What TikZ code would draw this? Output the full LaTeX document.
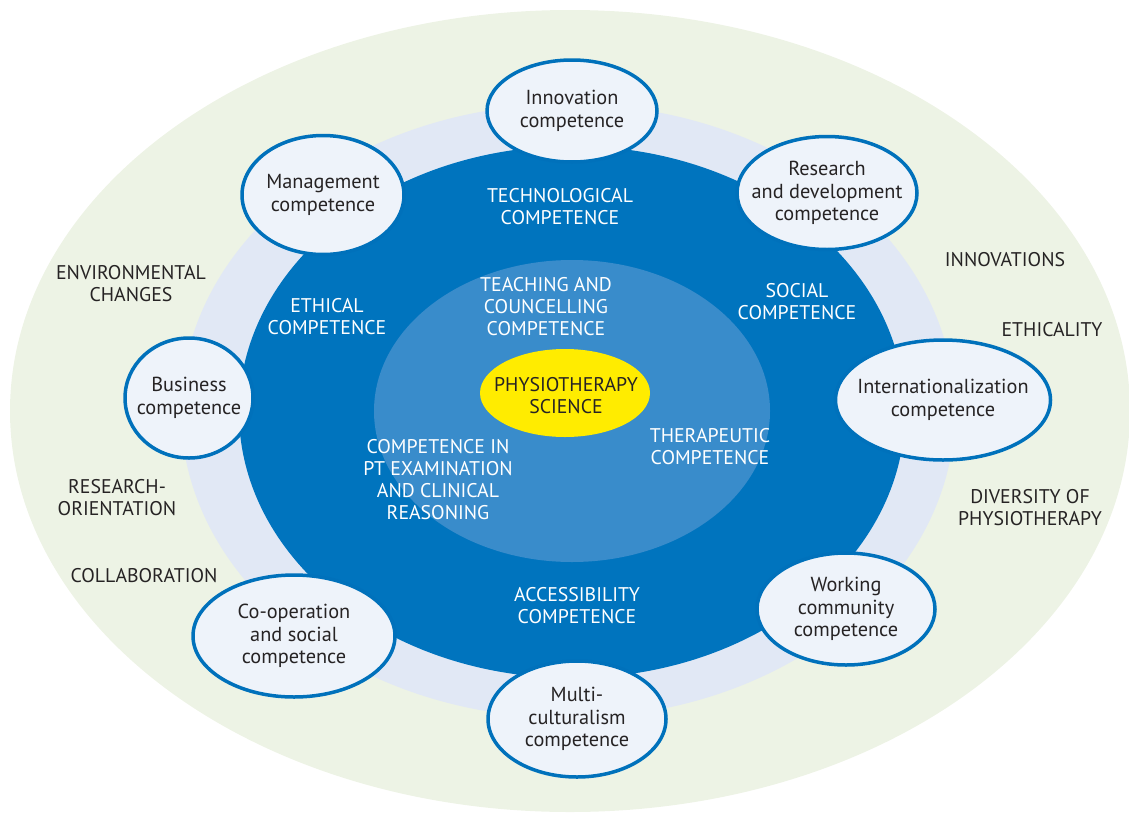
\documentclass[tikz,border=0pt]{standalone}
\usepackage{fontspec}
\setmainfont{PT Sans}
\usetikzlibrary{shapes.geometric}

\definecolor{fieldgreen}{HTML}{EDF3E5}
\definecolor{ringblue}{HTML}{E1E8F5}
\definecolor{deepblue}{HTML}{0074BE}
\definecolor{coreblue}{HTML}{398CCB}
\definecolor{sunyellow}{HTML}{FFEC00}
\definecolor{rimblue}{HTML}{0071BB}
\definecolor{paleblue}{HTML}{EEF3FA}
\definecolor{inkgray}{HTML}{262324}

\begin{document}
\begin{tikzpicture}[x=1pt,y=-1pt,
    comp/.style={ellipse, draw=rimblue, line width=3.5pt, fill=paleblue, inner sep=0pt},
    comptext/.style={align=center, text=inkgray, font=\fontsize{20.3}{22.5}\selectfont},
    incap/.style={align=center, text=white, font=\fontsize{19.8}{22}\selectfont},
    outcap/.style={align=center, text=inkgray, font=\fontsize{19.8}{22}\selectfont}]
    \useasboundingbox (0,0) rectangle (1129,814);

    % rings
    \fill[fieldgreen] (570,411) ellipse [x radius=560pt, y radius=401pt];
    \fill[ringblue] (568,411) ellipse [x radius=387pt, y radius=307pt];
    \fill[deepblue] (572,412) ellipse [x radius=333pt, y radius=266pt];
    \fill[coreblue] (572,411) ellipse [x radius=198pt, y radius=151pt];

    \node[ellipse, fill=sunyellow, minimum width=170pt, minimum height=88pt, inner sep=0pt]
          (science) at (565,393) {};
    \node[outcap] (scitext) at (566,396) {PHYSIOTHERAPY\\SCIENCE};

    % competences round the rim
    \node[comp, minimum width=170pt, minimum height=102pt] (innov) at (572,111) {};
    \node[comp, minimum width=180pt, minimum height=113pt] (resdev) at (827,193) {};
    \node[comp, minimum width=162pt, minimum height=119pt] (manage) at (323,195) {};
    \node[comp, minimum width=128pt, minimum height=120pt] (business) at (189,398) {};
    \node[comp, minimum width=215pt, minimum height=120pt] (intl) at (943,400) {};
    \node[comp, minimum width=178pt, minimum height=112pt] (workcom) at (846,609) {};
    \node[comp, minimum width=202pt, minimum height=122pt] (coop) at (294,636) {};
    \node[comp, minimum width=178pt, minimum height=116pt] (multi) at (577,719) {};

    \node[comptext] at (innov) {Innovation\\competence};
    \node[comptext] at (resdev) {Research\\and development\\competence};
    \node[comptext] at (manage) {Management\\competence};
    \node[comptext] at (business) {Business\\competence};
    \node[comptext] at (intl) {Internationalization\\competence};
    \node[comptext] at (workcom) {Working\\community\\competence};
    \node[comptext] at (coop) {Co-operation\\and social\\competence};
    \node[comptext] at (multi) {Multi-\\culturalism\\competence};

    % labels in the blue
    \node[incap] (techno) at (560,207) {TECHNOLOGICAL\\COMPETENCE};
    \node[incap] (ethic) at (327,317) {ETHICAL\\COMPETENCE};
    \node[incap] (social) at (797,302) {SOCIAL\\COMPETENCE};
    \node[incap] (access) at (577,606) {ACCESSIBILITY\\COMPETENCE};
    \node[incap] (teach) at (546,307) {TEACHING AND\\COUNCELLING\\COMPETENCE};
    \node[incap] (exam) at (438,480) {COMPETENCE IN\\PT EXAMINATION\\AND CLINICAL\\REASONING};
    \node[incap] (thera) at (710,447) {THERAPEUTIC\\COMPETENCE};

    % labels in the green
    \node[outcap] (envir) at (131,284) {ENVIRONMENTAL\\CHANGES};
    \node[outcap] (resori) at (117,498) {RESEARCH-\\ORIENTATION};
    \node[outcap] (collab) at (144,576) {COLLABORATION};
    \node[outcap] (innovs) at (1005,260) {INNOVATIONS};
    \node[outcap] (ethics) at (1052,330) {ETHICALITY};
    \node[outcap] (divers) at (1030,508) {DIVERSITY OF\\PHYSIOTHERAPY};
\end{tikzpicture}
\end{document}
